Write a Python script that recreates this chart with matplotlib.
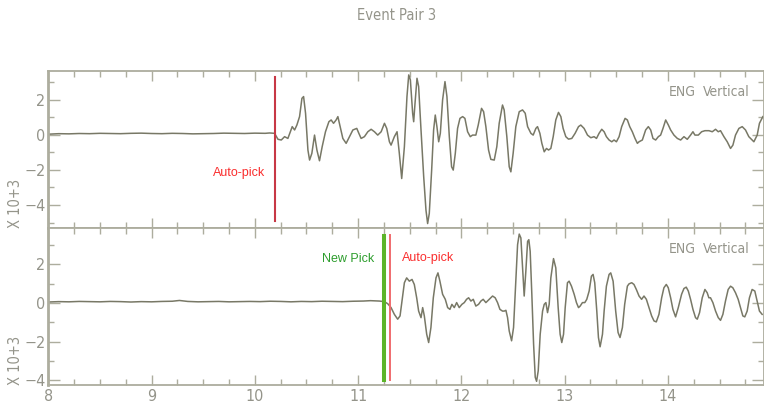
import matplotlib
matplotlib.use("Agg")
import matplotlib.pyplot as plt
from matplotlib.ticker import MultipleLocator
from matplotlib.font_manager import FontProperties

# ---- data (time in s, amplitude in units of 10^3) ----
top_t = [8.00, 8.10, 8.20, 8.30, 8.40, 8.50, 8.60, 8.70, 8.80, 8.90, 9.00, 9.10,
         9.20, 9.30, 9.40, 9.50, 9.60, 9.70, 9.80, 9.90, 10.00, 10.10, 10.143,
         10.191, 10.224, 10.256, 10.288, 10.320, 10.362, 10.385, 10.407, 10.433,
         10.456, 10.472, 10.491, 10.514, 10.530, 10.552, 10.578, 10.601, 10.626,
         10.652, 10.684, 10.717, 10.739, 10.762, 10.787, 10.804, 10.826, 10.852,
         10.884, 10.916, 10.949, 10.987, 11.007, 11.029, 11.061, 11.094, 11.126,
         11.158, 11.190, 11.223, 11.255, 11.277, 11.303, 11.319,
         11.351, 11.377, 11.399, 11.422, 11.448, 11.473, 11.490, 11.506, 11.528,
         11.538, 11.551, 11.570, 11.586, 11.609, 11.635, 11.657, 11.673, 11.689,
         11.712, 11.731, 11.747, 11.763, 11.780, 11.796, 11.818, 11.841, 11.860,
         11.883, 11.905, 11.921, 11.941, 11.963, 11.986, 12.012, 12.034, 12.060,
         12.086, 12.108, 12.140, 12.163, 12.195, 12.215, 12.237, 12.263, 12.285,
         12.318, 12.343, 12.366, 12.398, 12.414, 12.440, 12.463, 12.479, 12.501,
         12.527,
         12.560, 12.592, 12.618, 12.641, 12.673, 12.695, 12.721, 12.737, 12.760,
         12.779, 12.802, 12.824, 12.844, 12.866, 12.889, 12.914, 12.940, 12.963,
         12.985, 13.011, 13.037, 13.069, 13.101, 13.134, 13.156, 13.188, 13.221,
         13.253, 13.285, 13.308, 13.333, 13.359, 13.382, 13.404, 13.430, 13.456,
         13.478, 13.501, 13.527, 13.552, 13.585, 13.607, 13.630, 13.655, 13.681,
         13.704,
         13.720, 13.752, 13.784, 13.810, 13.833, 13.855, 13.881, 13.907, 13.929,
         13.952, 13.978, 14.004, 14.026, 14.058, 14.091, 14.123, 14.155, 14.187,
         14.219, 14.242, 14.261, 14.294, 14.326, 14.358, 14.397, 14.429, 14.461,
         14.487, 14.509, 14.542, 14.574, 14.606, 14.629, 14.654, 14.687, 14.719,
         14.751, 14.783, 14.832, 14.864, 14.886, 14.919]
top_v = [0.03, 0.06, 0.05, 0.07, 0.06, 0.08, 0.07, 0.06, 0.08, 0.09, 0.07, 0.06,
         0.08, 0.07, 0.05, 0.06, 0.07, 0.09, 0.08, 0.07, 0.09, 0.08, 0.10,
         0.08, -0.26, -0.30, -0.11, -0.21, 0.46, 0.27, 0.55, 1.03,
         2.07, 2.17, 1.22, -0.87, -1.44, -1.06, -0.02, -0.87, -1.48,
         -0.68, 0.17, 0.74, 0.84, 0.65, 0.84, 1.03, 0.46, -0.21,
         -0.49, -0.11, 0.27, 0.36, 0.08, -0.21, -0.11, 0.17, 0.31,
         0.17, -0.02, 0.17, 0.65, 0.36, -0.40, -0.59,
         -0.11, 0.17, -1.06, -2.49, -0.68, 2.17, 3.40, 3.12, 1.22,
         0.74, 1.79, 3.21, 2.74, 0.27, -2.39, -4.29, -5.05, -4.48,
         -2.01, 0.27, 1.12, 0.46, -0.40, 0.08, 1.98, 3.02, 2.17,
         -0.11, -1.82, -2.01, -1.06, 0.36, 0.93, 1.03, 0.93, 0.17,
         -0.11, -0.02, -0.02, 0.55, 1.50, 1.31, 0.46, -0.87, -1.40,
         -1.44, -0.68, 0.65, 1.69, 1.41, -0.11, -1.82, -2.11, -1.06,
         0.46,
         1.31, 1.41, 1.22, 0.46, 0.08, -0.02, 0.36, 0.46, 0.08,
         -0.49, -0.97, -0.78, -0.87, -0.78, -0.11, 0.84, 1.27, 1.03,
         0.36, -0.11, -0.25, -0.21, 0.08, 0.46, 0.55, 0.36, -0.02,
         -0.17, -0.11, -0.21, 0.08, 0.31, 0.17, -0.11, -0.30, -0.40,
         -0.30, -0.40, -0.11, 0.46, 0.93, 0.84, 0.46, 0.17, -0.21,
         -0.49,
         -0.40, -0.30, 0.27, 0.46, 0.27, -0.21, -0.30, -0.11, -0.02,
         0.36, 0.84, 0.55, 0.27, -0.02, -0.21, -0.30, -0.11, -0.26,
         -0.02, 0.17, -0.02, -0.02, 0.17, 0.23, 0.23, 0.17, 0.31,
         0.17, 0.23, -0.11, -0.40, -0.78, -0.59, -0.02, 0.36, 0.46,
         0.27, -0.11, -0.40, -0.02, 0.65, 1.03]

bot_t = [8.00, 8.10, 8.20, 8.30, 8.40, 8.50, 8.60, 8.70, 8.80, 8.90, 9.00, 9.10,
         9.20, 9.27, 9.35, 9.45, 9.55, 9.65, 9.75, 9.85, 9.95, 10.05, 10.15,
         10.25, 10.35, 10.45, 10.55, 10.65, 10.75, 10.85, 10.95, 11.05, 11.12,
         11.206,
         11.254, 11.287, 11.319, 11.351, 11.383, 11.406, 11.425, 11.448, 11.470,
         11.496, 11.522, 11.544, 11.567, 11.586, 11.609, 11.625, 11.641, 11.664,
         11.683, 11.705, 11.728, 11.754, 11.773, 11.792, 11.818, 11.844, 11.867,
         11.889, 11.908, 11.931, 11.954, 11.979, 12.005, 12.028, 12.050, 12.070,
         12.092, 12.115, 12.140, 12.166, 12.189, 12.211, 12.237, 12.269, 12.302,
         12.327, 12.350, 12.373, 12.398,
         12.415, 12.431, 12.447, 12.463, 12.486, 12.505, 12.528, 12.544, 12.560,
         12.576, 12.592, 12.608, 12.624, 12.641, 12.653, 12.666, 12.682, 12.699,
         12.715, 12.728, 12.744, 12.763, 12.786, 12.802, 12.818, 12.834, 12.850,
         12.866, 12.892, 12.914, 12.937, 12.956, 12.972, 12.989, 13.005, 13.027,
         13.043, 13.066, 13.092, 13.114, 13.134, 13.150, 13.172, 13.195, 13.214,
         13.237, 13.259, 13.275, 13.291, 13.311, 13.327, 13.343, 13.366, 13.382,
         13.404, 13.430, 13.446, 13.469, 13.494, 13.517, 13.536, 13.559, 13.581,
         13.607,
         13.623, 13.649, 13.671, 13.694, 13.720, 13.745, 13.768, 13.791, 13.816,
         13.842, 13.865, 13.887, 13.913, 13.939, 13.961, 13.984, 14.003, 14.026,
         14.048, 14.074, 14.100, 14.132, 14.155, 14.177, 14.197, 14.219, 14.242,
         14.267, 14.284, 14.306, 14.332, 14.358, 14.380, 14.396, 14.412, 14.435,
         14.461, 14.487, 14.509, 14.532, 14.557, 14.583, 14.606, 14.628, 14.654,
         14.680, 14.702, 14.725, 14.744, 14.767, 14.789, 14.815, 14.841, 14.863,
         14.886, 14.912]
bot_v = [0.05, 0.07, 0.06, 0.08, 0.07, 0.06, 0.08, 0.07, 0.05, 0.07, 0.06, 0.08,
         0.09, 0.13, 0.08, 0.06, 0.07, 0.08, 0.06, 0.07, 0.08, 0.07, 0.09,
         0.08, 0.06, 0.08, 0.07, 0.09, 0.08, 0.07, 0.09, 0.10, 0.12,
         0.10,
         0.07, -0.04, -0.24, -0.59, -0.84, -0.67, 0.10, 1.05, 1.30,
         1.13, 1.22, 0.96, 0.27, -0.42, -0.76, -0.24, -0.67, -1.62,
         -2.05, -1.27, 0.27, 1.30, 1.56, 1.13, 0.45, 0.19, -0.24,
         -0.33, -0.07, -0.24, 0.02, -0.24, -0.07, 0.02, 0.19, 0.27,
         0.10, 0.19, -0.16, -0.07, 0.10, 0.19, 0.02, 0.19, 0.36,
         0.27, 0.02, -0.33, -0.42,
         -0.42, -0.38, -0.76, -1.45, -1.96, -1.27, 1.30, 3.02, 3.57,
         3.37, 1.82, 0.36, 1.65, 3.19, 3.28, 2.68, 0.45, -2.13,
         -3.85, -4.06, -3.51, -1.62, -0.42, -0.07, 0.02, -0.50, -0.07,
         1.30, 2.30, 1.82, -0.24, -1.62, -2.05, -1.62, -0.24, 1.05,
         1.13, 0.87, 0.45, 0.02, -0.24, -0.16, 0.02, 0.02, 0.19,
         0.62, 1.39, 1.48, 1.05, -0.42, -1.79, -2.27, -1.62, -0.42,
         0.87, 1.48, 1.56, 1.13, -0.42, -1.53, -1.79, -1.27, -0.07,
         0.87,
         0.99, 1.05, 0.96, 0.70, 0.36, 0.19, 0.36, 0.19, -0.24,
         -0.67, -0.93, -0.98, -0.59, 0.27, 0.79, 0.96, 0.79, 0.27,
         -0.33, -0.72, -0.24, 0.45, 0.75, 0.82, 0.62, 0.19, -0.33,
         -0.76, -0.84, -0.50, 0.27, 0.70, 0.53, 0.27, 0.27, 0.02,
         -0.42, -0.76, -0.90, -0.59, 0.10, 0.70, 0.87, 0.79, 0.53,
         0.19, -0.24, -0.67, -0.72, -0.42, 0.27, 0.70, 0.62, 0.10,
         -0.42, -0.59]

# pick times (s)
top_auto_pick = 10.195
bot_new_pick = 11.248
bot_auto_pick = 11.31

x_range = (8.0, 14.93)
top_ylim = (-5.32, 3.64)
bot_ylim = (-4.25, 3.87)

# ---- styling ----
trace_col = (0.47, 0.47, 0.40)
axis_col = (0.68, 0.68, 0.62)
label_col = (0.58, 0.58, 0.54)
pick_font = ["Liberation Sans", "DejaVu Sans"]


def thin(size):
    return FontProperties(family="DejaVu Sans", stretch="condensed", size=size)


fig = plt.figure(figsize=(7.64, 4.05), dpi=100)
ax_top = fig.add_axes([0.0632, 0.4363, 0.9368, 0.3891])
ax_bot = fig.add_axes([0.0632, 0.0494, 0.9368, 0.3869])


def style_axis(ax, ylim, show_xlabels):
    ax.set_xlim(*x_range)
    ax.set_ylim(*ylim)
    for name, sp in ax.spines.items():
        sp.set_color(axis_col)
        sp.set_linewidth(2.0 if name == "left" else 1.3)
    ax.xaxis.set_major_locator(MultipleLocator(1))
    ax.xaxis.set_minor_locator(MultipleLocator(0.25))
    ax.yaxis.set_major_locator(MultipleLocator(2))
    ax.yaxis.set_minor_locator(MultipleLocator(1))
    ax.tick_params(axis="x", which="major", direction="in", length=7, width=1.0,
                   color=axis_col, top=True, bottom=True, labelbottom=show_xlabels,
                   labelcolor=label_col, pad=3)
    ax.tick_params(axis="x", which="minor", direction="in", length=4, width=1.0,
                   color=axis_col, top=True, bottom=True)
    ax.tick_params(axis="y", which="major", direction="in", length=8.5, width=1.0,
                   color=axis_col, left=True, right=True,
                   labelcolor=label_col, pad=2)
    ax.tick_params(axis="y", which="minor", direction="in", length=4.5, width=1.0,
                   color=axis_col, left=True, right=True)
    for lab in ax.get_xticklabels() + ax.get_yticklabels():
        lab.set_fontproperties(thin(11.5))
    ax.text(-0.046, 0.0, "X 10+3", transform=ax.transAxes, rotation=90,
            ha="center", va="bottom", color=label_col, fontproperties=thin(10.5))


style_axis(ax_top, top_ylim, False)
style_axis(ax_bot, bot_ylim, True)

# waveforms
ax_top.plot(top_t, top_v, color=trace_col, lw=1.1, zorder=2)
ax_bot.plot(bot_t, bot_v, color=trace_col, lw=1.1, zorder=2)

# picks
ax_top.plot([top_auto_pick, top_auto_pick], [-4.89, 3.28], color=(0.78, 0.22, 0.27),
            lw=1.5, zorder=3)
ax_bot.plot([bot_new_pick, bot_new_pick], [-3.98, 3.47], color=(0.36, 0.71, 0.16),
            lw=2.9, zorder=3)
ax_bot.plot([bot_auto_pick, bot_auto_pick], [-3.98, 3.50], color=(0.94, 0.42, 0.43),
            lw=1.4, zorder=3)

ax_top.text(top_auto_pick - 0.09, -2.18, "Auto-pick", color=(0.98, 0.18, 0.18),
            fontsize=9, ha="right", va="center", family=pick_font)
ax_bot.text(bot_new_pick - 0.09, 2.27, "New Pick", color=(0.18, 0.62, 0.18),
            fontsize=9, ha="right", va="center", family=pick_font)
ax_bot.text(bot_auto_pick + 0.11, 2.32, "Auto-pick", color=(0.98, 0.18, 0.18),
            fontsize=9, ha="left", va="center", family=pick_font)

# channel labels
for ax in (ax_top, ax_bot):
    ax.text(14.01, 0.865, "ENG", transform=ax.get_xaxis_transform(),
            color=label_col, ha="left", va="center", fontproperties=thin(10))
    ax.text(14.79, 0.865, "Vertical", transform=ax.get_xaxis_transform(),
            color=label_col, ha="right", va="center", fontproperties=thin(10))

fig.text(397 / 764, 1 - 16 / 405, "Event Pair 3", ha="center", va="center",
         color=label_col, fontproperties=thin(10.5))

fig.savefig("out.png", dpi=100)
